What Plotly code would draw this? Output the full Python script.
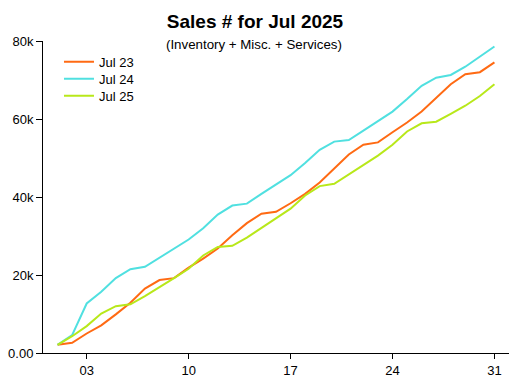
import plotly.graph_objects as go

days = list(range(1, 32))
jul23 = [2100, 2600, 5000, 7100, 9900, 12900, 16500, 18700, 19200, 21900, 24200, 26800, 30200, 33300, 35700, 36200,
         38400, 40800, 43700, 47200, 50900, 53400, 54000, 56600, 59100, 61900, 65500, 68900, 71500, 72000, 74500]
jul24 = [2100, 4600, 12700, 15700, 19200, 21500, 22100, 24400, 26800, 29100, 32000, 35500, 37800, 38300, 40800, 43300,
         45600, 48700, 52100, 54200, 54600, 57000, 59400, 61900, 65100, 68500, 70600, 71300, 73400, 75900, 78600]
jul25 = [2100, 4300, 6900, 10100, 12000, 12500, 14600, 16800, 19200, 21600, 25000, 27200, 27500, 29600, 32000, 34600,
         37000, 40400, 42800, 43400, 45800, 48100, 50600, 53400, 56800, 58900, 59300, 61300, 63400, 65900, 68900]

series_names = ["Jul 23", "Jul 24", "Jul 25"]
series_colors = ["#ff6a13", "#50e0e0", "#b8e81a"]
x_tickvals = [3, 10, 17, 24, 31]
x_ticktext = ["03", "10", "17", "24", "31"]
y_tickvals = [0, 20000, 40000, 60000, 80000]
y_ticktext = ["0.00", "20k", "40k", "60k", "80k"]

FONT = "Liberation Sans, Arial, sans-serif"
legend_ids = ["legend", "legend2", "legend3"]
legend_ys = [0.9814, 0.9269, 0.8724]

fig = go.Figure()
for name, vals, col, lid in zip(series_names, [jul23, jul24, jul25], series_colors, legend_ids):
    fig.add_trace(go.Scatter(x=days, y=vals, mode="lines", name=name, legend=lid,
                             line=dict(color=col, width=2)))

legend_common = dict(x=0.0343, xanchor="left", yanchor="top", bgcolor="rgba(0,0,0,0)",
                     font=dict(family=FONT, size=13, color="black"))

fig.update_layout(
    width=510, height=382,
    margin=dict(l=43, r=1, t=41, b=29),
    paper_bgcolor="white", plot_bgcolor="white",
    font=dict(family=FONT, size=12, color="black"),
    title=dict(text="<b>Sales # for Jul 2025</b>", x=0.5, xref="container", xanchor="center",
               y=1 - 21.5 / 382, yref="container", yanchor="middle",
               font=dict(family=FONT, size=19, color="black")),
    showlegend=True,
    legend=dict(y=legend_ys[0], **legend_common),
    legend2=dict(y=legend_ys[1], **legend_common),
    legend3=dict(y=legend_ys[2], **legend_common),
    annotations=[dict(text="(Inventory + Misc. + Services)", xref="paper", yref="paper",
                      x=(254 - 43) / 466, y=1 - (44.5 - 41) / 312, xanchor="center", yanchor="middle",
                      showarrow=False, font=dict(family=FONT, size=13.3, color="black"))],
)
fig.update_xaxes(range=[0, 32], showgrid=False, zeroline=False, showline=True, linecolor="black",
                 linewidth=1, ticks="outside", ticklen=5, tickcolor="black",
                 tickvals=x_tickvals, ticktext=x_ticktext, tickfont=dict(size=13))
fig.update_yaxes(range=[0, 80000], showgrid=False, zeroline=False, showline=True, linecolor="black",
                 linewidth=1, ticks="outside", ticklen=6, tickcolor="black",
                 tickvals=y_tickvals, ticktext=y_ticktext, tickfont=dict(size=13))

fig.write_html("out.html", config={"displayModeBar": False},
               post_script="document.body.style.margin='0';document.body.style.overflow='hidden';")
